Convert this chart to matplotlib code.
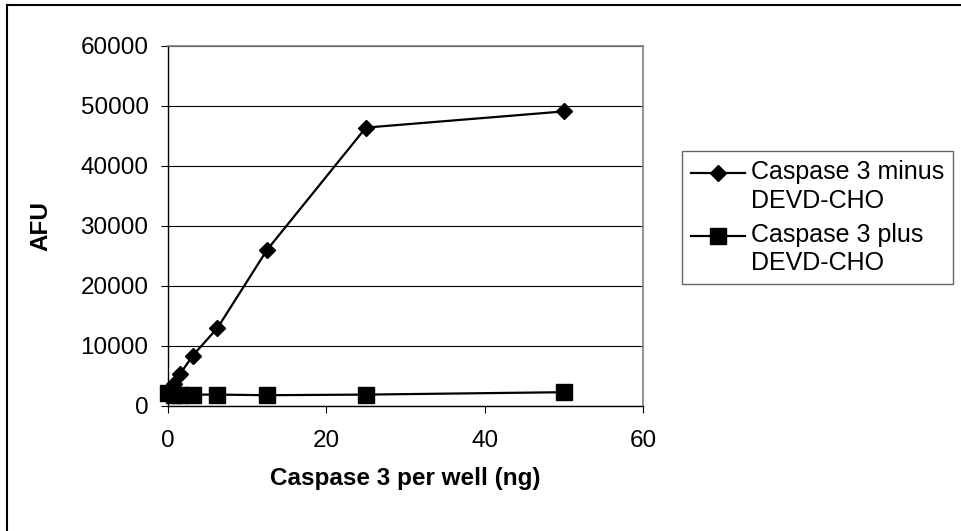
import numpy as np
import matplotlib
matplotlib.use('Agg')
import matplotlib.pyplot as plt
from matplotlib.lines import Line2D
from matplotlib.legend_handler import HandlerLine2D

# caspase 3 amount per well (ng)
caspase_ng = [0, 0.78, 1.56, 3.125, 6.25, 12.5, 25, 50]
# fluorescence (AFU)
afu_minus = [2100, 3700, 5400, 8400, 13000, 26000, 46400, 49100]
afu_plus = [2100, 1900, 1900, 1900, 1900, 1800, 1900, 2300]

label_minus = 'Caspase 3 minus\nDEVD-CHO'
label_plus = 'Caspase 3 plus\nDEVD-CHO'


class FirstLineHandler(HandlerLine2D):
    # put the legend line next to the first text line, like excel does
    def create_artists(self, legend, orig_handle, xdescent, ydescent,
                       width, height, fontsize, trans):
        artists = super().create_artists(legend, orig_handle, xdescent, ydescent,
                                         width, height, fontsize, trans)
        for a in artists:
            a.set_ydata(np.asarray(a.get_ydata()) + 0.55 * fontsize)
        return artists


plt.rcParams['font.family'] = ['Liberation Sans', 'DejaVu Sans']

fig = plt.figure(figsize=(9.61, 5.31), dpi=100)
ax = fig.add_axes([168 / 961, 1 - 406 / 531, (643 - 168) / 961, (406 - 46) / 531])

l1, = ax.plot(caspase_ng, afu_minus, color='black', lw=1.6, marker='D', ms=8,
              label=label_minus, zorder=3, clip_on=False)
l2, = ax.plot(caspase_ng, afu_plus, color='black', lw=1.6, marker='s', ms=11,
              label=label_plus, zorder=3, clip_on=False)

ax.set_xlim(0, 60)
ax.set_ylim(0, 60000)
ax.set_xticks([0, 20, 40, 60])
ax.set_yticks(range(0, 60001, 10000))
ax.yaxis.grid(True, color='black', lw=0.8)
ax.set_axisbelow(True)

ax.tick_params(axis='both', labelsize=17.5, direction='out', length=5, width=0.8)
ax.tick_params(axis='y', pad=9)
ax.tick_params(axis='x', pad=12)

for side in ['top', 'right']:
    ax.spines[side].set_color('#808080')
    ax.spines[side].set_linewidth(1.2)
for side in ['left', 'bottom']:
    ax.spines[side].set_color('black')
    ax.spines[side].set_linewidth(1.0)

ax.set_xlabel('Caspase 3 per well (ng)', fontsize=17.5, fontweight='bold', labelpad=11)
ax.set_ylabel('AFU', fontsize=17.5, fontweight='bold', labelpad=20)

leg = ax.legend(loc='upper left', bbox_to_anchor=(682 / 961, 1 - 151 / 531),
                bbox_transform=fig.transFigure, borderaxespad=0, fontsize=18,
                frameon=True, fancybox=False, edgecolor='#404040',
                handlelength=2.15, handletextpad=0.25, labelspacing=0.4,
                borderpad=0.35,
                handler_map={l1: FirstLineHandler(), l2: FirstLineHandler()})
leg.get_frame().set_linewidth(1.0)
for t in leg.get_texts():
    t.set_linespacing(1.25)

# chart border (only top and left visible)
fig.add_artist(Line2D([7 / 961, 1], [1 - 5 / 531, 1 - 5 / 531], color='black', lw=1.5,
                      transform=fig.transFigure))
fig.add_artist(Line2D([7 / 961, 7 / 961], [0, 1 - 5 / 531], color='black', lw=1.5,
                      transform=fig.transFigure))

fig.savefig('out.png', dpi=100)
